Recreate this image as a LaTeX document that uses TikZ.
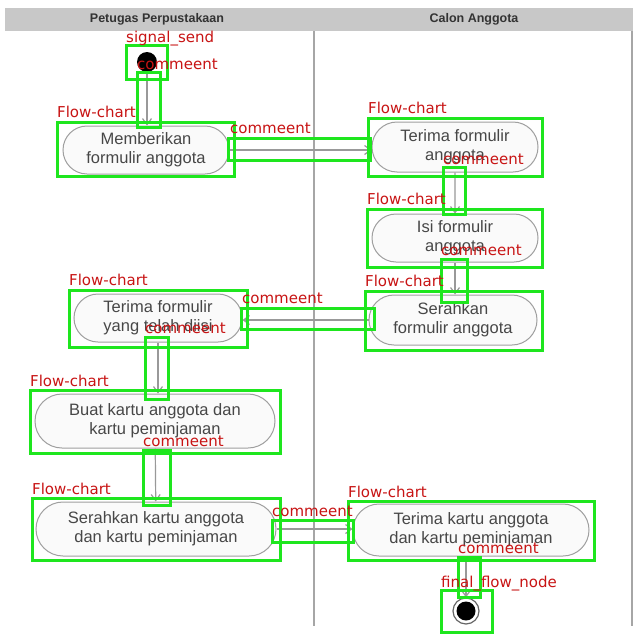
\documentclass[tikz,border=0pt]{standalone}
\usepackage{fontspec}
\setmainfont{Liberation Sans}
\newfontfamily\lblfont{DejaVu Sans}
\usetikzlibrary{arrows.meta,shapes.misc}
\definecolor{annotgreen}{RGB}{30,230,30}
\definecolor{annotred}{RGB}{200,20,20}
\definecolor{lanegray}{RGB}{200,200,200}
\begin{document}
\begin{tikzpicture}[x=1pt,y=-1pt,
 act/.style={draw=gray!75, line width=1pt, fill=gray!4, rounded rectangle, align=center,
   font=\fontsize{16.5}{19}\selectfont, text=black!72, inner sep=0pt},
 flow/.style={draw=gray!80, line width=1.2pt, -{Straight Barb[length=6pt,width=9pt]}},
 gbox/.style={draw=annotgreen, line width=3pt},
 glabel/.style={text=annotred, font=\lblfont\fontsize{15}{15}\selectfont, anchor=base west, inner sep=0pt},
 lanehead/.style={font=\bfseries\fontsize{12.5}{13}\selectfont, text=black!80, inner sep=0pt},
 lane/.style={draw=gray!70, line width=1.5pt}
]
\useasboundingbox (0,0) rectangle (640,640);
\fill[white] (0,0) rectangle (640,640);
% swimlanes
\fill[lanegray] (5,8) rectangle (633,31);
\node[lanehead] (h1) at (157,19) {Petugas Perpustakaan};
\node[lanehead] (h2) at (474,19) {Calon Anggota};
\draw[lane] (314,31) -- (314,626);
\draw[lane] (632,31) -- (632,626);
% nodes
\node[circle, fill=black, minimum size=20pt, inner sep=0pt] (start) at (147,62) {};
\node[act, minimum width=166pt, minimum height=48pt] (a1) at (146,150) {Memberikan\\formulir anggota};
\node[act, minimum width=166pt, minimum height=50pt] (a2) at (455,147) {Terima formulir\\anggota};
\node[act, minimum width=166pt, minimum height=48pt] (a3) at (455,238) {Isi formulir\\anggota};
\node[act, minimum width=168pt, minimum height=50pt] (a4) at (453,320) {Serahkan\\formulir anggota};
\node[act, minimum width=168pt, minimum height=48pt] (a5) at (158,318) {Terima formulir\\yang telah diisi};
\node[act, minimum width=240pt, minimum height=54pt] (a6) at (155,421) {Buat kartu anggota dan\\kartu peminjaman};
\node[act, minimum width=240pt, minimum height=54pt] (a7) at (156,529) {Serahkan kartu anggota\\dan kartu peminjaman};
\node[act, minimum width=236pt, minimum height=52pt] (a8) at (471,530) {Terima kartu anggota\\dan kartu peminjaman};
\node[circle, draw=black!60, line width=1.2pt, fill=white, minimum size=26pt, inner sep=0pt] (end) at (466,611) {};
\node[circle, fill=black, minimum size=19pt, inner sep=0pt] (endin) at (end) {};
% flows
\draw[flow] (start) -- (start |- a1.north);
\draw[flow] (a1.east) -- (a1.east -| a2.west);
\draw[flow] (a2) -- (a3);
\draw[flow] (a3.south) -- (a3.south |- a4.north);
\draw[flow] (a4.west) -- (a4.west -| a5.east);
\draw[flow] (a5.south) -- (a5.south |- a6.north);
\draw[flow] (a6) -- (a7);
\draw[flow] (a7.east) -- (a7.east -| a8.west);
\draw[flow] (end |- a8.south) -- (end);
% annotation boxes
\draw[gbox] (126,45) rectangle (167,79);
\draw[gbox] (137,72) rectangle (160,127);
\draw[gbox] (57,122) rectangle (234,176);
\draw[gbox] (228,138) rectangle (370,160);
\draw[gbox] (368,118) rectangle (542,176);
\draw[gbox] (443,167) rectangle (465,214);
\draw[gbox] (367,209) rectangle (542,267);
\draw[gbox] (441,259) rectangle (467,302);
\draw[gbox] (365,291) rectangle (542,350);
\draw[gbox] (241,308) rectangle (374,329);
\draw[gbox] (69,290) rectangle (247,347);
\draw[gbox] (145,337) rectangle (168,399);
\draw[gbox] (30,390) rectangle (280,453);
\draw[gbox] (143,450) rectangle (170,505);
\draw[gbox] (32,498) rectangle (280,560);
\draw[gbox] (272,520) rectangle (353,542);
\draw[gbox] (348,501) rectangle (594,560);
\draw[gbox] (458,557) rectangle (480,597);
\draw[gbox] (441,590) rectangle (492,632);
% annotation labels
\node[glabel] (l1) at (126,42) {signal\_send};
\node[glabel] (l2) at (137,69) {commeent};
\node[glabel] (l3) at (57,117) {Flow-chart};
\node[glabel] (l4) at (230,133) {commeent};
\node[glabel] (l5) at (368,113) {Flow-chart};
\node[glabel] (l6) at (443,164) {commeent};
\node[glabel] (l7) at (367,204) {Flow-chart};
\node[glabel] (l8) at (441,255) {commeent};
\node[glabel] (l9) at (365,286) {Flow-chart};
\node[glabel] (l10) at (242,303) {commeent};
\node[glabel] (l11) at (69,285) {Flow-chart};
\node[glabel] (l12) at (145,333) {commeent};
\node[glabel] (l13) at (30,386) {Flow-chart};
\node[glabel] (l14) at (143,446) {commeent};
\node[glabel] (l15) at (32,494) {Flow-chart};
\node[glabel] (l16) at (272,516) {commeent};
\node[glabel] (l17) at (348,497) {Flow-chart};
\node[glabel] (l18) at (458,553) {commeent};
\node[glabel] (l19) at (441,587) {final\_flow\_node};
\end{tikzpicture}
\end{document}
